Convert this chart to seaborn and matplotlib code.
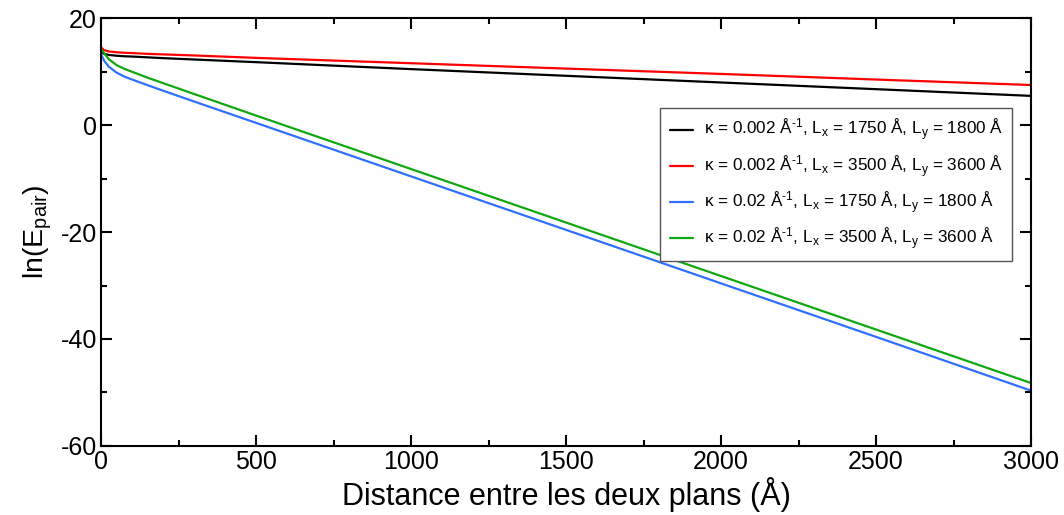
import matplotlib
matplotlib.use("Agg")
import matplotlib.pyplot as plt
import pandas as pd
import seaborn as sns
from matplotlib.ticker import MultipleLocator

# distance between the two planes (Angstrom)
distance = [0, 10, 25, 50, 75, 100, 150, 200, 300, 500, 1000, 1500, 2000, 2500, 3000]

# ln(E_pair) for each case
k0002_small = [13.7, 13.3, 13.1, 12.95, 12.85, 12.8, 12.65, 12.5, 12.25, 11.75,
               10.45, 9.2, 7.95, 6.7, 5.45]
k0002_large = [14.5, 14.0, 13.75, 13.6, 13.5, 13.45, 13.3, 13.2, 13.0, 12.55,
               11.55, 10.55, 9.55, 8.5, 7.48]
k002_small = [13.2, 12.0, 10.9, 9.8, 9.05, 8.5, 7.45, 6.42, 4.4, 0.4,
              -9.6, -19.6, -29.6, -39.6, -49.65]
k002_large = [14.3, 13.4, 12.3, 11.2, 10.5, 9.95, 8.85, 7.83, 5.8, 1.77,
              -8.23, -18.23, -28.23, -38.23, -48.23]

# U+2010 hyphen keeps the exponent as a short dash like the original
labels = [
    "κ = 0.002 Å$^{\u20101}$, L$_{x}$ = 1750 Å, L$_{y}$ = 1800 Å",
    "κ = 0.002 Å$^{\u20101}$, L$_{x}$ = 3500 Å, L$_{y}$ = 3600 Å",
    "κ = 0.02 Å$^{\u20101}$, L$_{x}$ = 1750 Å, L$_{y}$ = 1800 Å",
    "κ = 0.02 Å$^{\u20101}$, L$_{x}$ = 3500 Å, L$_{y}$ = 3600 Å",
]
colors = ["#000000", "#ff0000", "#3070ff", "#10a810"]

series = [k0002_small, k0002_large, k002_small, k002_large]
df = pd.concat([
    pd.DataFrame({"d": distance, "lnE": vals, "serie": lab})
    for vals, lab in zip(series, labels)
])

sns.set_style("ticks")
plt.rcParams["font.family"] = ["Liberation Sans", "DejaVu Sans"]
plt.rcParams["mathtext.fontset"] = "custom"
plt.rcParams["mathtext.rm"] = "Liberation Sans"
plt.rcParams["mathtext.default"] = "regular"
plt.rcParams["axes.unicode_minus"] = False
plt.rcParams["text.color"] = "black"
plt.rcParams["axes.labelcolor"] = "black"
plt.rcParams["axes.edgecolor"] = "black"

fig = plt.figure(figsize=(10.64, 5.15), dpi=100)
ax = fig.add_axes([0.095, 0.134, 0.874, 0.831])

sns.lineplot(data=df, x="d", y="lnE", hue="serie", hue_order=labels,
             palette=colors, linewidth=1.6, ax=ax)

ax.set_xlim(0, 3000)
ax.set_ylim(-60, 20)
ax.xaxis.set_major_locator(MultipleLocator(500))
ax.xaxis.set_minor_locator(MultipleLocator(250))
ax.yaxis.set_major_locator(MultipleLocator(20))
ax.yaxis.set_minor_locator(MultipleLocator(10))
ax.tick_params(which="both", direction="in", top=True, right=True,
               width=1.5, labelsize=18, colors="black")
ax.tick_params(axis="x", pad=3)
ax.tick_params(axis="y", pad=3)
ax.tick_params(which="major", length=8)
ax.tick_params(which="minor", length=4.5)
for s in ax.spines.values():
    s.set_linewidth(1.5)
    s.set_color("black")

ax.set_xlabel("Distance entre les deux plans (Å)", fontsize=22, labelpad=2)
ax.set_ylabel("ln(E$_{pair}$)", fontsize=20.5, labelpad=5)

handles, labs = ax.get_legend_handles_labels()
leg = ax.legend(handles, labs, loc="upper right", bbox_to_anchor=(0.98, 0.79),
                borderaxespad=0, fontsize=12.3, frameon=True, fancybox=False,
                framealpha=1, edgecolor="#555555", handlelength=1.35,
                borderpad=0.55, labelspacing=0.58, handletextpad=0.65)
leg.get_frame().set_linewidth(1.0)

fig.savefig("out.png", dpi=100)
plt.close()
